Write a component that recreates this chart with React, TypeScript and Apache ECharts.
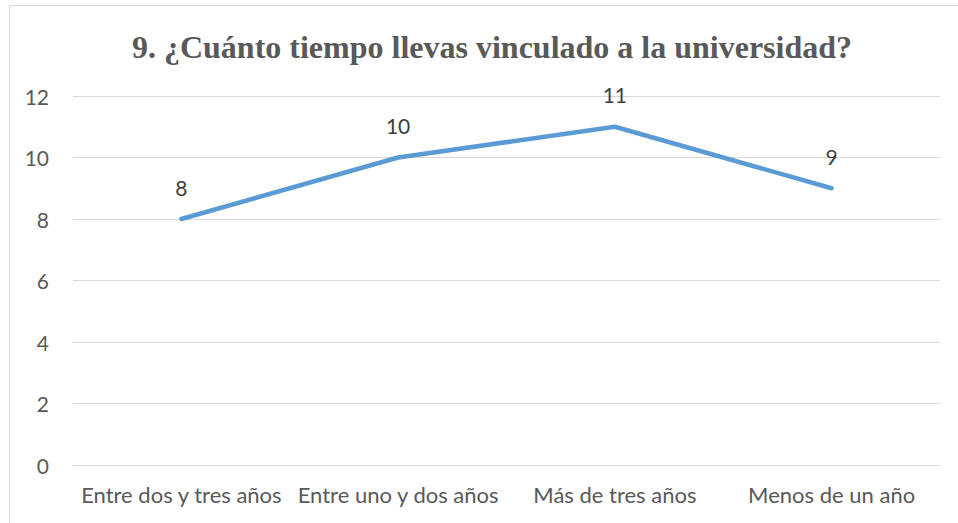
import React, { useEffect, useRef } from "react";
import * as echarts from "echarts";

const categories = ["Entre dos y tres años", "Entre uno y dos años", "Más de tres años", "Menos de un año"];
const values = [8, 10, 11, 9];
const titleText = "9. ¿Cuánto tiempo llevas vinculado a la universidad?";

export default function App() {
  const ref = useRef<HTMLDivElement>(null);
  useEffect(() => {
    document.body.style.margin = "0";
    const chart = echarts.init(ref.current!, null, { renderer: "svg" });
    chart.setOption({
      animation: false,
      backgroundColor: "#ffffff",
      title: {
        text: titleText,
        left: 487,
        textAlign: "center",
        top: 26,
        textStyle: {
          fontFamily: "Liberation Serif",
          fontWeight: "bold",
          fontSize: 32,
          color: "#595959",
        },
      },
      graphic: [
        {
          type: "rect",
          shape: { x: 9.5, y: 5.5, width: 980, height: 560 },
          style: { fill: "none", stroke: "#d9d9d9", lineWidth: 1 },
          silent: true,
        },
      ],
      grid: { left: 73, right: 18, top: 96, bottom: 58, containLabel: false },
      xAxis: {
        type: "category",
        data: categories,
        boundaryGap: true,
        axisLine: { show: true, lineStyle: { color: "#d9d9d9", width: 1 } },
        axisTick: { show: false },
        axisLabel: {
          fontFamily: "Lato",
          fontSize: 22,
          color: "#595959",
          margin: 18,
          interval: 0,
        },
      },
      yAxis: {
        type: "value",
        min: 0,
        max: 12,
        interval: 2,
        axisLine: { show: false },
        axisTick: { show: false },
        splitLine: { lineStyle: { color: "#d9d9d9", width: 1 } },
        axisLabel: {
          fontFamily: "Lato",
          fontSize: 21,
          color: "#595959",
          margin: 24,
        },
      },
      series: [
        {
          type: "line",
          data: values,
          symbol: "circle",
          symbolSize: 1,
          itemStyle: { color: "#5B9BD5" },
          lineStyle: { color: "#5B9BD5", width: 4.5, cap: "round" },
          label: {
            show: true,
            position: "top",
            distance: 21,
            fontFamily: "Lato",
            fontSize: 21,
            color: "#404040",
          },
        },
      ],
    });
    return () => chart.dispose();
  }, []);
  return <div ref={ref} style={{ width: 958, height: 523 }} />;
}
